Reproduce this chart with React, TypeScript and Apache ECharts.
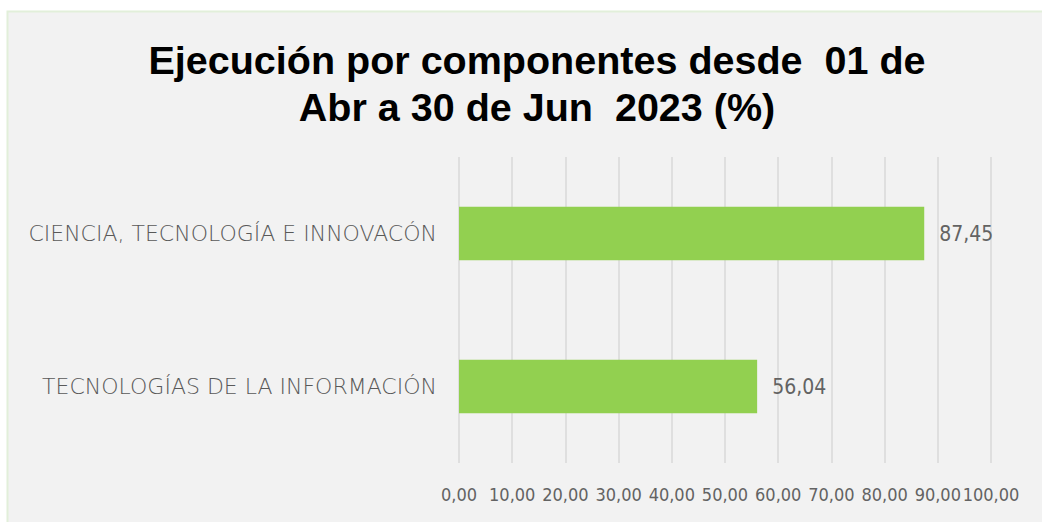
import React, { useEffect, useRef } from "react";
import * as echarts from "echarts";

const categories = ["CIENCIA, TECNOLOGÍA E INNOVACÓN", "TECNOLOGÍAS DE LA INFORMACIÓN"];
const values = [87.45, 56.04];
const titleText = "Ejecución por componentes desde  01 de\nAbr a 30 de Jun  2023 (%)";

const fmt = (v: number) => v.toFixed(2).replace(".", ",");

export default function App() {
  const ref = useRef<HTMLDivElement>(null);
  useEffect(() => {
    if (!ref.current) return;
    const chart = echarts.init(ref.current, undefined, { renderer: "svg" });
    chart.setOption({
      animation: false,
      backgroundColor: "#ffffff",
      graphic: [
        {
          type: "rect",
          z: -10,
          silent: true,
          shape: { x: 7.5, y: 11.5, width: 1040, height: 515 },
          style: { fill: "#f2f2f2", stroke: "#e2efda", lineWidth: 2 },
        },
      ],
      title: {
        text: titleText,
        left: 532,
        top: 31,
        textAlign: "center",
        textStyle: {
          fontFamily: "Liberation Sans",
          fontWeight: "bold",
          fontSize: 39.5,
          lineHeight: 47,
          color: "#000000",
        },
      },
      grid: { left: 459, right: 51, top: 157, bottom: 59, containLabel: false },
      xAxis: {
        type: "value",
        min: 0,
        max: 100,
        interval: 10,
        axisLine: { show: false },
        axisTick: { show: false },
        splitLine: { show: true, lineStyle: { color: "#d9d9d9", width: 1.5 } },
        axisLabel: {
          formatter: (v: number) => fmt(v),
          color: "#636363",
          fontFamily: "DejaVu Sans Condensed",
          fontSize: 18,
          margin: 22,
          showMinLabel: true,
          showMaxLabel: true,
          hideOverlap: false,
          interval: 0,
        },
      },
      yAxis: {
        type: "category",
        inverse: true,
        data: categories,
        axisLine: { show: false },
        axisTick: { show: false },
        axisLabel: {
          color: "#595959",
          fontFamily: "DejaVu Sans",
          fontWeight: 200,
          fontSize: 22,
          margin: 22,
        },
      },
      series: [
        {
          type: "bar",
          data: values,
          barWidth: "35%",
          itemStyle: { color: "#92d050" },
          label: {
            show: true,
            position: "right",
            distance: 15,
            formatter: (p: any) => fmt(p.value),
            color: "#636363",
            fontFamily: "DejaVu Sans Condensed",
            fontSize: 21,
          },
        },
      ],
    });
    return () => chart.dispose();
  }, []);
  return (
    <div
      ref={ref}
      style={{ position: "absolute", left: 0, top: 0, width: 1042, height: 522 }}
    />
  );
}
